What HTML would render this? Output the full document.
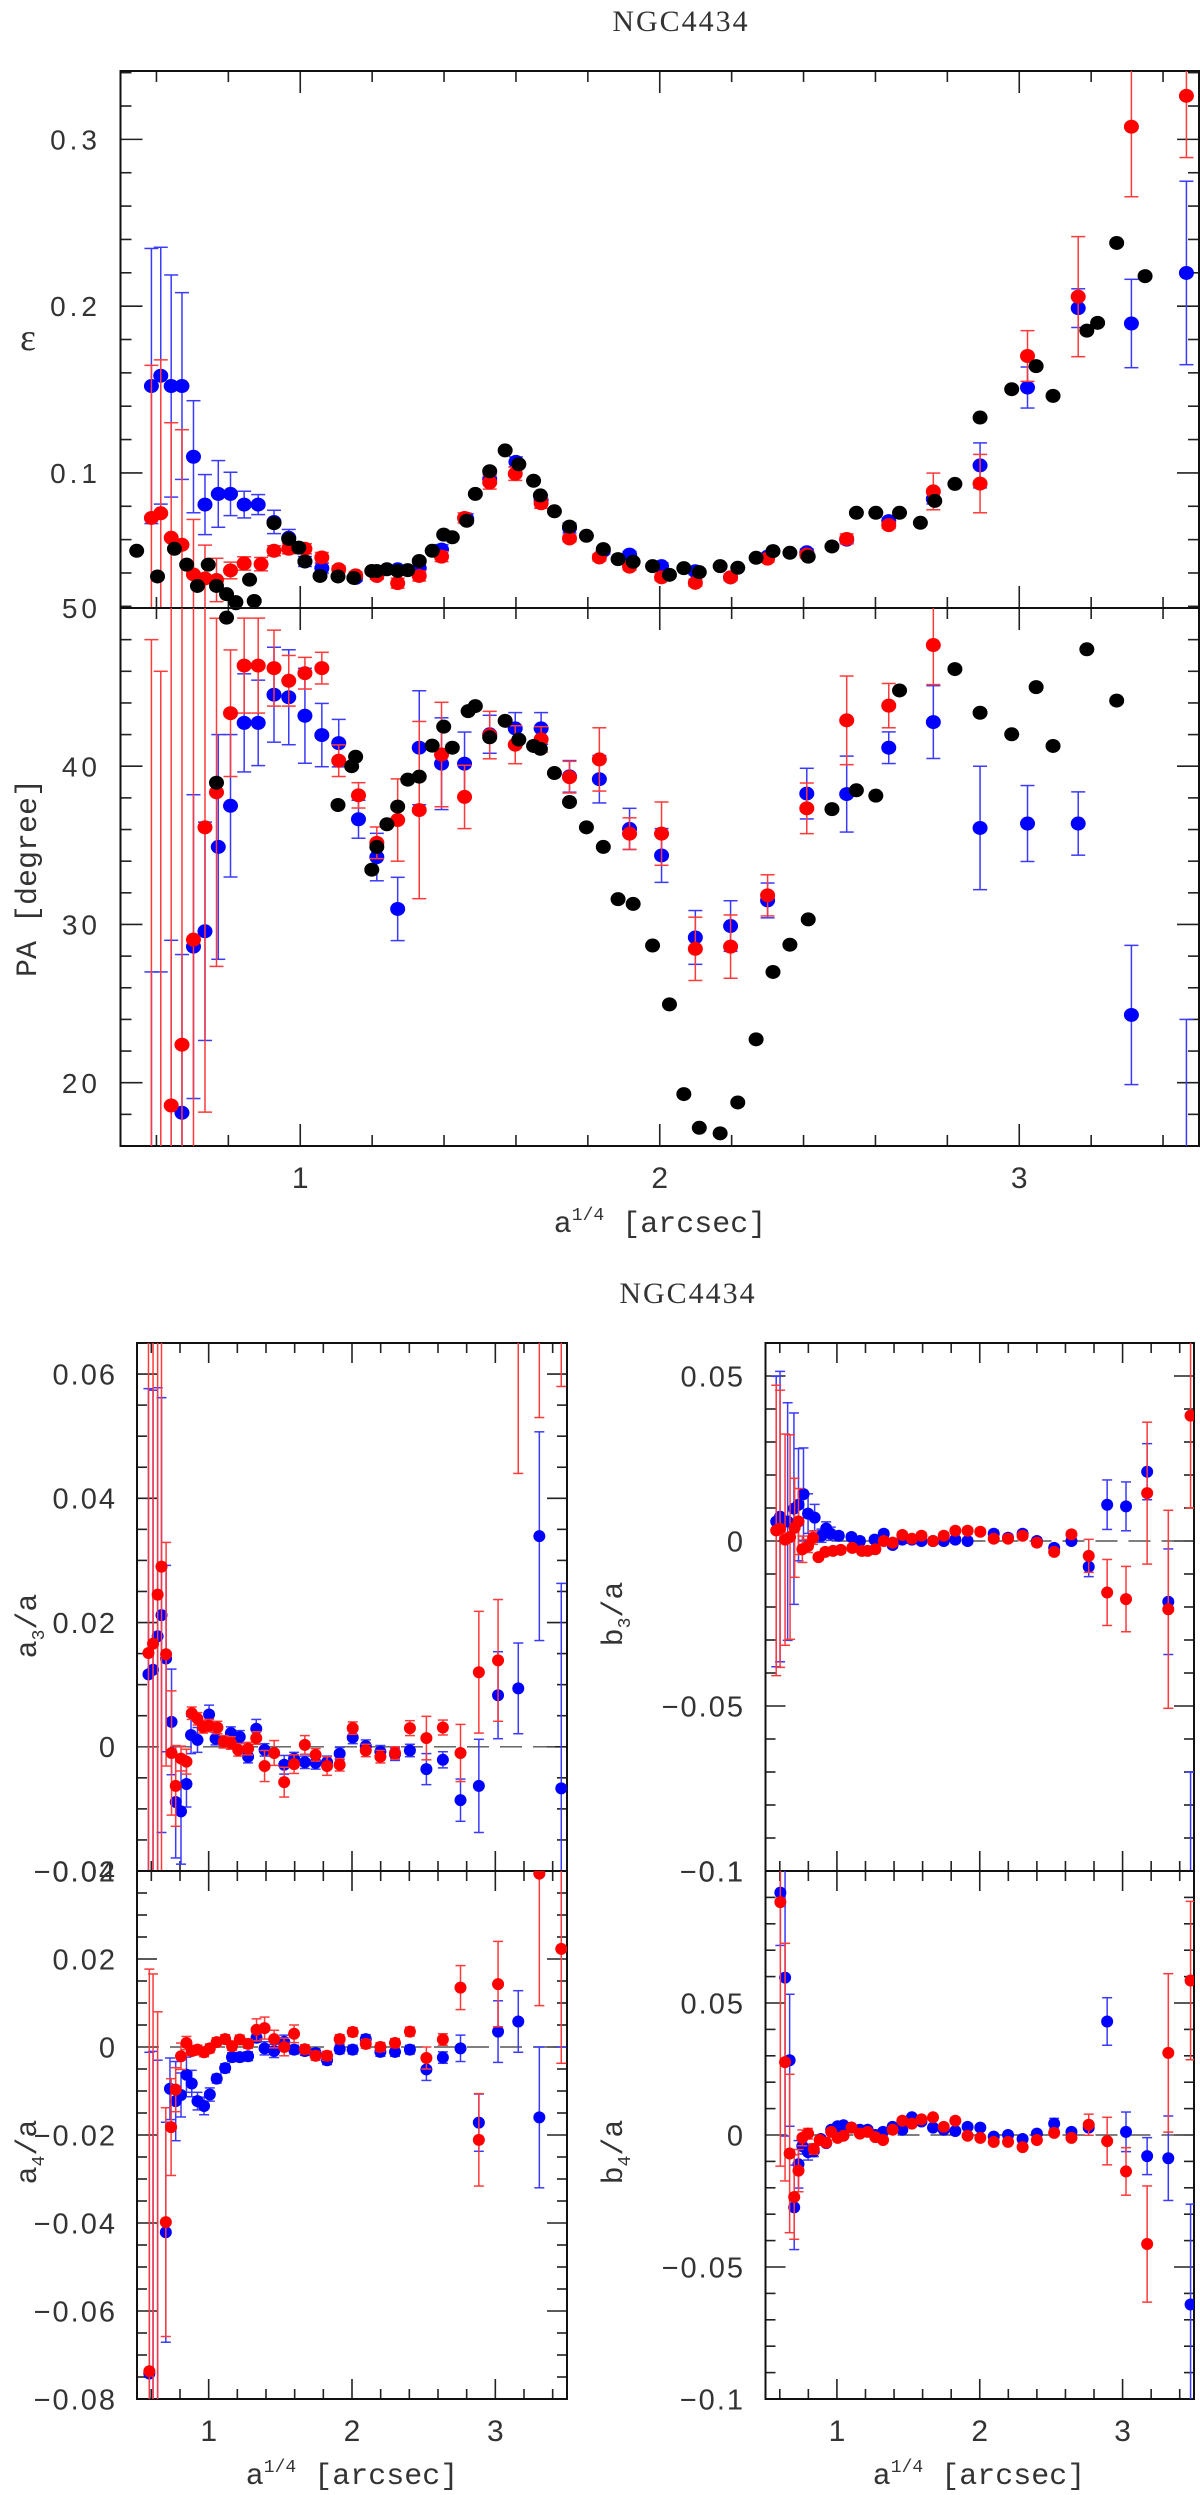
<!DOCTYPE html>
<html><head><meta charset="utf-8">
<style>
html,body{margin:0;padding:0;background:#fff;width:1200px;height:2495px;overflow:hidden;}
svg{display:block;}
text{font-family:"Liberation Sans",sans-serif;fill:#333;}
.mono{font-family:"Liberation Mono",monospace;}
.serif{font-family:"Liberation Serif",serif;}
</style></head>
<body>
<svg id="fig" width="1200" height="2495" viewBox="0 0 1200 2495" xmlns="http://www.w3.org/2000/svg">
<text class="serif" x="681" y="31" font-size="30" text-anchor="middle" letter-spacing="2">NGC4434</text>
<text class="serif" x="688" y="1303" font-size="30" text-anchor="middle" letter-spacing="2">NGC4434</text>
</svg>
<script>
// ---------- ellipticity panel ----------
const epsBlackX=[0.545,0.603,0.650,0.684,0.714,0.744,0.767,0.795,0.821,0.859,0.872,0.927,0.968,0.996,1.013,1.055,1.105,1.149,1.199,1.213,1.241,1.271,1.299,1.331,1.367,1.399,1.423,1.463,1.487,1.527,1.570,1.608,1.649,1.668,1.707,1.749,1.796,1.843,1.884,1.926,1.980,2.027,2.067,2.110,2.168,2.217,2.268,2.315,2.362,2.413,2.479,2.547,2.601,2.667,2.725,2.765,2.821,2.891,2.979,3.047,3.094,3.188,3.218,3.271,3.350];
const epsBlackY=[0.0533,0.0379,0.0545,0.045,0.0322,0.045,0.0322,0.0273,0.0225,0.036,0.0232,0.0699,0.0604,0.0552,0.0469,0.0382,0.0379,0.037,0.0412,0.0412,0.0422,0.0412,0.0417,0.0472,0.0533,0.063,0.0614,0.0713,0.0874,0.101,0.1135,0.1052,0.0953,0.0865,0.077,0.0678,0.0623,0.0543,0.0483,0.0467,0.0441,0.0389,0.0429,0.0405,0.0441,0.0431,0.0491,0.0531,0.0521,0.0498,0.0559,0.0761,0.0761,0.0761,0.0701,0.0832,0.0934,0.1332,0.1502,0.164,0.1462,0.1853,0.19,0.2379,0.218];
const epsBlueX=[0.586,0.612,0.641,0.671,0.703,0.735,0.772,0.806,0.844,0.883,0.927,0.968,1.013,1.060,1.154,1.213,1.271,1.331,1.393,1.463,1.527,1.600,1.670,1.749,1.843,1.916,2.005,2.099,2.197,2.300,2.409,2.520,2.637,2.761,2.891,3.023,3.164,3.312,3.465];
const epsBlueY=[0.1521,0.1583,0.1521,0.1521,0.1097,0.081,0.0874,0.0874,0.081,0.081,0.0706,0.0611,0.0469,0.0429,0.037,0.0398,0.0422,0.0429,0.054,0.0725,0.0962,0.1066,0.0836,0.067,0.0533,0.051,0.0441,0.041,0.0374,0.0498,0.0524,0.06,0.0711,0.0844,0.1045,0.1512,0.1988,0.1896,0.2199];
const epsBlueE=[0.0825,0.077,0.0666,0.056,0.0336,0.018,0.02,0.013,0.008,0.006,0.007,0.005,0.003,0.003,0.002,0.002,0.002,0.003,0.003,0.003,0.003,0.003,0.003,0.003,0.002,0.002,0.002,0.002,0.002,0.002,0.002,0.002,0.002,0.003,0.0135,0.0123,0.0116,0.0265,0.055];
const epsRedX=[0.586,0.612,0.641,0.671,0.703,0.735,0.767,0.806,0.844,0.891,0.927,0.968,1.013,1.060,1.107,1.154,1.213,1.271,1.331,1.393,1.457,1.527,1.598,1.670,1.749,1.832,1.916,2.005,2.099,2.197,2.300,2.409,2.520,2.637,2.761,2.891,3.023,3.164,3.312,3.465];
const epsRedY=[0.073,0.0758,0.0611,0.0569,0.0391,0.0367,0.0358,0.0415,0.0457,0.0453,0.0533,0.0545,0.0545,0.0493,0.0422,0.0386,0.0382,0.0339,0.0382,0.0498,0.073,0.0943,0.0995,0.0818,0.0607,0.0493,0.0438,0.0374,0.0341,0.0374,0.0486,0.051,0.0604,0.0687,0.0889,0.0936,0.1701,0.2057,0.3076,0.3261];
const epsRedE=[0.0915,0.092,0.069,0.069,0.033,0.02,0.013,0.005,0.004,0.004,0.003,0.003,0.003,0.003,0.002,0.002,0.002,0.003,0.003,0.003,0.003,0.004,0.004,0.003,0.002,0.002,0.002,0.002,0.002,0.002,0.002,0.002,0.003,0.002,0.011,0.0175,0.0152,0.036,0.042,0.037];
// ---------- position angle panel ----------
const paBlackX=[0.767,0.795,0.821,0.872,1.105,1.143,1.154,1.199,1.213,1.241,1.271,1.299,1.331,1.367,1.399,1.423,1.467,1.487,1.527,1.570,1.608,1.649,1.668,1.707,1.749,1.796,1.843,1.884,1.926,1.980,2.027,2.067,2.110,2.168,2.217,2.268,2.315,2.362,2.413,2.479,2.547,2.601,2.667,2.821,2.891,2.979,3.047,3.094,3.188,3.271];
const paBlackY=[38.96,49.39,50.3,50.4,37.55,40.0,40.6,33.46,34.9,36.33,37.45,39.15,39.34,41.3,42.5,41.17,43.48,43.8,41.83,42.87,41.68,41.28,41.1,39.57,37.74,36.14,34.9,31.6,31.3,28.67,24.95,19.28,17.15,16.8,18.75,22.74,27.0,28.72,30.32,37.29,38.48,38.14,44.79,46.14,43.38,42.02,45.0,41.28,47.39,44.15];
const paBlueX=[0.586,0.612,0.641,0.671,0.703,0.735,0.772,0.806,0.844,0.883,0.927,0.968,1.013,1.060,1.107,1.162,1.213,1.271,1.331,1.393,1.457,1.527,1.598,1.670,1.749,1.832,1.916,2.005,2.099,2.197,2.300,2.409,2.520,2.637,2.761,2.891,3.023,3.164,3.312,3.465];
const paBlueY=[12,12,15,18.1,28.6,29.57,34.9,37.5,42.74,42.74,44.52,44.36,43.19,41.97,41.46,36.65,34.26,30.98,41.17,40.16,40.16,42.02,42.39,42.39,39.36,39.18,36.04,34.36,29.18,29.9,31.52,38.27,38.24,41.17,42.79,36.1,36.38,36.38,24.28,12];
const paBlueE=[15,15,14,10,9.6,6.9,7.1,4.5,3.1,2.7,3,3,3,2,1.5,1.2,1.5,2,3.6,2.9,2,1.2,1,1,1,1.5,1.3,1.7,1.7,1.6,1.1,1.6,2.4,1,2.3,3.9,2.4,2,4.4,12];
const paRedX=[0.586,0.612,0.641,0.671,0.703,0.735,0.767,0.806,0.844,0.883,0.927,0.968,1.013,1.060,1.107,1.162,1.213,1.271,1.331,1.393,1.457,1.527,1.598,1.670,1.749,1.832,1.916,2.005,2.099,2.197,2.300,2.409,2.520,2.637,2.761];
const paRedY=[10,10,18.56,22.4,29.04,36.14,38.35,43.35,46.36,46.36,46.2,45.4,45.88,46.2,40.35,38.16,35.16,36.6,37.23,40.74,38.06,41.97,41.36,41.7,39.31,40.43,35.74,35.74,28.46,28.6,31.84,37.34,42.9,43.83,47.66];
const paRedE=[38,36,32,28,21,18,11,4,3,3,2.4,1.6,1,1,1,0.8,1,2.6,5.6,3.3,2,1.5,1.2,0.8,1,2,1,2,2,2,1.3,1.6,2.8,1.4,2.5];
// ---------- a3/a ----------
const a3BlueX=[0.580,0.612,0.644,0.671,0.703,0.741,0.770,0.807,0.845,0.877,0.922,1.003,1.048,1.155,1.217,1.275,1.332,1.390,1.527,1.596,1.671,1.746,1.826,1.914,2.005,2.096,2.198,2.300,2.404,2.519,2.634,2.757,2.885,3.019,3.160,3.307,3.460];
const a3BlueY=[0.01165,0.0124,0.0178,0.0212,0.0142,0.004,-0.0089,-0.0104,-0.006,0.0019,0.0011,0.0052,0.0013,0.0022,0.0016,-0.0016,0.0029,-0.0005,-0.0029,-0.0019,-0.0025,-0.0026,-0.0025,-0.0011,0.0015,0.0001,-0.0008,-0.0012,-0.0006,-0.0036,-0.0021,-0.0086,-0.0063,0.0083,0.0094,0.0339,-0.0067];
const a3BlueE=[0.046,0.045,0.04,0.035,0.015,0.0085,0.009,0.0085,0.0037,0.003,0.002,0.0015,0.001,0.001,0.001,0.001,0.0015,0.001,0.0015,0.001,0.001,0.001,0.001,0.001,0.001,0.001,0.001,0.001,0.001,0.0025,0.0013,0.0034,0.0075,0.007,0.0073,0.0168,0.033];
const a3RedX=[0.580,0.612,0.644,0.671,0.703,0.741,0.770,0.807,0.845,0.882,0.922,0.960,1.003,1.061,1.104,1.155,1.206,1.275,1.332,1.390,1.457,1.527,1.596,1.671,1.746,1.826,1.914,2.005,2.096,2.198,2.300,2.404,2.519,2.634,2.757,2.885,3.019,3.160,3.307,3.460];
const a3RedY=[0.0151,0.0166,0.0245,0.029,0.0149,-0.001,-0.0063,-0.0019,-0.0024,0.0054,0.0045,0.0032,0.0034,0.0031,0.0008,0.0006,-0.0005,-0.0003,0.0014,-0.0031,-0.001,-0.0057,-0.0028,0.0003,-0.0013,-0.0031,-0.0029,0.003,-0.0006,-0.0016,-0.001,0.003,0.0014,0.0031,-0.001,0.012,0.0139,0.072,0.08,0.085];
const a3RedE=[0.05,0.05,0.05,0.05,0.018,0.01,0.0065,0.002,0.002,0.001,0.001,0.001,0.001,0.001,0.001,0.001,0.001,0.001,0.001,0.0025,0.002,0.0024,0.0015,0.0015,0.001,0.0015,0.001,0.001,0.001,0.001,0.001,0.0012,0.0035,0.0012,0.0046,0.0098,0.0098,0.028,0.027,0.027];
// ---------- a4/a ----------
const a4BlueX=[0.586,0.612,0.644,0.701,0.730,0.770,0.807,0.845,0.882,0.922,0.968,1.008,1.056,1.115,1.163,1.217,1.275,1.334,1.390,1.457,1.527,1.596,1.671,1.746,1.826,1.914,2.005,2.096,2.198,2.300,2.404,2.519,2.634,2.757,2.885,3.019,3.160,3.307,3.460];
const a4BlueY=[-0.0742,-0.1,-0.1,-0.0421,-0.0095,-0.0123,-0.0109,-0.0063,-0.0083,-0.0123,-0.0134,-0.0108,-0.0072,-0.0048,-0.0023,-0.0023,-0.0021,0.0021,-0.0003,-0.0009,0.0012,-0.0006,-0.0009,-0.0014,-0.003,-0.0005,-0.0006,0.0018,-0.0011,-0.0011,-0.0006,-0.0051,-0.0024,-0.0003,-0.0172,0.0035,0.0058,-0.016,0.06];
const a4BlueE=[0.073,0.099,0.097,0.025,0.007,0.009,0.005,0.004,0.003,0.002,0.002,0.0015,0.001,0.001,0.001,0.001,0.001,0.001,0.0015,0.0015,0.0015,0.001,0.001,0.001,0.001,0.001,0.001,0.001,0.001,0.001,0.001,0.0025,0.0013,0.003,0.0065,0.007,0.007,0.016,0.06];
const a4RedX=[0.586,0.612,0.644,0.701,0.738,0.770,0.807,0.845,0.882,0.922,0.968,1.008,1.056,1.115,1.163,1.217,1.275,1.334,1.390,1.457,1.527,1.596,1.671,1.746,1.826,1.914,2.005,2.096,2.198,2.300,2.404,2.519,2.634,2.757,2.885,3.019,3.307,3.460];
const a4RedY=[-0.0737,-0.1,-0.1,-0.0398,-0.0182,-0.0097,-0.0021,0.0009,-0.0009,-0.0006,-0.0012,-0.0003,0.0011,0.0018,0.0002,0.0017,0.0007,0.0039,0.0043,0.0018,0,0.003,-0.0005,-0.002,-0.002,0.0018,0.0034,0.0007,0,0.0009,0.0035,-0.0025,0.0017,0.0135,-0.0211,0.0143,0.0394,0.0223];
const a4RedE=[0.0914,0.1166,0.108,0.026,0.011,0.005,0.003,0.0015,0.001,0.001,0.001,0.001,0.001,0.001,0.001,0.001,0.001,0.0025,0.0025,0.002,0.002,0.002,0.001,0.001,0.001,0.001,0.001,0.001,0.001,0.001,0.001,0.0025,0.0013,0.005,0.0105,0.0097,0.03,0.026];
// ---------- b3/a ----------
const b3BlueX=[0.575,0.602,0.655,0.699,0.731,0.766,0.798,0.844,0.892,0.925,0.957,1.013,1.102,1.161,1.264,1.328,1.390,1.458,1.525,1.592,1.673,1.748,1.829,1.915,2.098,2.198,2.300,2.400,2.521,2.642,2.763,2.892,3.024,3.172,3.320,3.476];
const b3BlueY=[0.0059,0.0074,0.0059,0.0098,0.011,0.0142,0.0083,0.0071,0.0016,0.0038,0.0022,0.0016,0.0012,0,0.0004,0.0022,-0.0012,0.0004,0.0004,0,0,0,0.0004,0,0.0022,0.001,0.0022,0,-0.0021,0,-0.0078,0.011,0.0105,0.021,-0.0184,-0.11];
const b3BlueE=[0.044,0.044,0.036,0.029,0.017,0.014,0.006,0.004,0.002,0.002,0.002,0.001,0.001,0.001,0.001,0.001,0.001,0.001,0.001,0.001,0.001,0.001,0.001,0.001,0.001,0.001,0.001,0.001,0.001,0.001,0.003,0.0075,0.0074,0.0085,0.016,0.04];
const b3RedX=[0.575,0.602,0.637,0.672,0.704,0.731,0.758,0.798,0.833,0.871,0.919,0.973,1.027,1.108,1.175,1.215,1.269,1.328,1.390,1.458,1.525,1.592,1.673,1.748,1.829,1.915,2.004,2.098,2.198,2.300,2.400,2.521,2.642,2.763,2.892,3.024,3.172,3.320,3.476];
const b3RedY=[0.0032,0.0037,0.0004,0.0012,0.004,0.0059,-0.0025,-0.0015,0.001,-0.0049,-0.0033,-0.003,-0.0027,-0.0021,-0.003,-0.003,-0.0025,0,-0.0005,0.0018,0.0007,0.0016,0,0.0016,0.0031,0.0031,0.0028,0.0007,0.0007,0.0016,-0.0005,-0.0033,0.002,-0.0045,-0.0156,-0.0176,0.0145,-0.0207,0.038];
const b3RedE=[0.044,0.042,0.032,0.031,0.015,0.01,0.004,0.002,0.002,0.001,0.001,0.001,0.001,0.001,0.001,0.001,0.001,0.001,0.001,0.001,0.001,0.001,0.001,0.001,0.001,0.001,0.001,0.001,0.001,0.001,0.001,0.001,0.001,0.005,0.01,0.0099,0.0215,0.03,0.028];
// ---------- b4/a ----------
const b4BlueX=[0.604,0.637,0.669,0.701,0.731,0.758,0.798,0.838,0.887,0.925,0.960,1.005,1.046,1.102,1.161,1.215,1.269,1.323,1.390,1.458,1.525,1.592,1.673,1.748,1.829,1.915,2.004,2.098,2.198,2.300,2.400,2.521,2.642,2.763,2.892,3.024,3.172,3.320,3.476];
const b4BlueY=[0.0918,0.0596,0.0283,-0.0274,-0.0111,-0.0042,-0.0065,-0.0062,-0.0015,-0.0031,0.002,0.0033,0.0037,0.0028,0.002,0.002,0,0.0012,0.0031,0.002,0.0067,0.0051,0.0028,0.002,0.0015,0.0031,0.0028,-0.0006,0,-0.0015,0.0005,0.0043,0.0012,0.0028,0.043,0.0012,-0.008,-0.0088,-0.0642];
const b4BlueE=[0.02,0.06,0.025,0.016,0.009,0.003,0.003,0.002,0.001,0.001,0.001,0.001,0.001,0.001,0.001,0.001,0.001,0.001,0.001,0.001,0.001,0.001,0.001,0.001,0.001,0.001,0.001,0.001,0.001,0.001,0.001,0.002,0.001,0.001,0.009,0.0075,0.007,0.016,0.038];
const b4RedX=[0.604,0.637,0.669,0.701,0.731,0.758,0.798,0.838,0.879,0.925,0.960,1.005,1.046,1.102,1.161,1.215,1.269,1.323,1.390,1.458,1.525,1.592,1.673,1.748,1.829,1.915,2.004,2.098,2.198,2.300,2.400,2.521,2.642,2.763,2.892,3.024,3.172,3.320,3.476];
const b4RedY=[0.0882,0.0276,-0.007,-0.0235,-0.0135,-0.0011,0.0005,-0.0053,-0.0019,-0.0029,0.0012,-0.0011,-0.0003,0.0028,0.0005,0.0012,-0.0008,-0.0019,0.002,0.0054,0.0043,0.0059,0.0067,0.0031,0.0054,-0.0003,-0.0011,-0.0026,-0.0026,-0.0046,-0.0019,0.0008,-0.0011,0.0039,-0.0023,-0.0138,-0.0413,0.0311,0.0585];
const b4RedE=[0.1,0.045,0.03,0.016,0.008,0.003,0.002,0.002,0.001,0.001,0.001,0.001,0.001,0.001,0.001,0.001,0.001,0.001,0.001,0.001,0.001,0.001,0.001,0.001,0.001,0.001,0.001,0.001,0.001,0.001,0.001,0.001,0.001,0.004,0.009,0.009,0.022,0.03,0.03];
// ---------- tick labels ----------
const xTickLabels=["1","2","3"];
const epsTickVals=[0.1,0.2,0.3];
const paTickVals=[20,30,40,50];
const a3TickVals=[0.06,0.04,0.02,0,-0.02];
const a3TickText=["0.06","0.04","0.02","0","\u22120.02"];
const a4TickVals=[0.04,0.02,0,-0.02,-0.04,-0.06,-0.08];
const a4TickText=["0.04","0.02","0","\u22120.02","\u22120.04","\u22120.06","\u22120.08"];
const b3TickVals=[0.05,0,-0.05,-0.1];
const b3TickText=["0.05","0","\u22120.05","\u22120.1"];
const b4TickVals=[0.1,0.05,0,-0.05,-0.1];
const b4TickText=["0.1","0.05","0","\u22120.05","\u22120.1"];

const NS="http://www.w3.org/2000/svg";
const svg=document.getElementById('fig');
function mk(tag,attrs,parent){const e=document.createElementNS(NS,tag);for(const k in attrs)e.setAttribute(k,attrs[k]);(parent||svg).appendChild(e);return e;}
let clipId=0;

function panel(name,P){
  const g=mk('g',{});
  
  
  const sx=v=>P.L+(v-P.x0)/(P.x1-P.x0)*(P.R-P.L);
  const sy=v=>P.B-(v-P.y0)/(P.y1-P.y0)*(P.B-P.T);
  P.sx=sx;P.sy=sy;P.g=g;
  const id='clip'+(clipId++);
  const cp=mk('clipPath',{id:id},g);
  mk('rect',{x:P.L,y:P.T,width:P.R-P.L,height:P.B-P.T},cp);
  P.clip='url(#'+id+')';
  const tg=mk('g',{stroke:'#222','stroke-width':1.6},g);
  
  
  for(let k=6;k<=34;k+=2){
    const v=k/10;
    const major=(k%10===0);
    const L=major?P.tmx:P.tmn;
    const X=sx(v);
    mk('line',{x1:X,x2:X,y1:P.B,y2:P.B-L},tg);
    mk('line',{x1:X,x2:X,y1:P.T,y2:P.T+L},tg);
  }
  const start=Math.ceil(P.y0/P.ym-1e-6);
  for(let j=start;j*P.ym<=P.y1+1e-9;j++){
    const v=j*P.ym;
    const major=Math.abs(Math.round(v/P.yM)*P.yM-v)<1e-9;
    const L=major?P.tmx:P.tmn;
    const Y=sy(v);
    mk('line',{x1:P.L,x2:P.L+L,y1:Y,y2:Y},tg);
    mk('line',{x1:P.R,x2:P.R-L,y1:Y,y2:Y},tg);
  }
  if(P.zero){
    const z=mk('line',{x1:P.L,x2:P.R,y1:sy(0),y2:sy(0),stroke:'#555','stroke-width':1.4,'stroke-dasharray':'22 11'},g);
    
    
  }
  const fr=mk('rect',{x:P.L,y:P.T,width:P.R-P.L,height:P.B-P.T,fill:'none',stroke:'#111','stroke-width':2},g);
  
  
  return P;
}

function series(P,name,xs,ys,es,color,ecolor,r){
  const g=mk('g',{'clip-path':P.clip},P.g);
  
  
  const nn=Math.min(xs.length,ys.length);
  if(es){
    for(let i=0;i<nn;i++){
      const X=P.sx(xs[i]),y1=P.sy(ys[i]+es[i]),y2=P.sy(ys[i]-es[i]);
      const l=mk('line',{x1:X,x2:X,y1:y1,y2:y2,stroke:ecolor,'stroke-width':1.5},g);
      
      
      mk('line',{x1:X-P.cap,x2:X+P.cap,y1:y1,y2:y1,stroke:ecolor,'stroke-width':1.5},g);
      mk('line',{x1:X-P.cap,x2:X+P.cap,y1:y2,y2:y2,stroke:ecolor,'stroke-width':1.5},g);
    }
  }
  for(let i=0;i<nn;i++){
    const c=mk('ellipse',{cx:P.sx(xs[i]),cy:P.sy(ys[i]),rx:r[0],ry:r[1],fill:color},g);
    
    
  }
}

function yLabels(P,name,vals,texts,xr,fs,ls){
  vals.forEach((v,i)=>{
    const t=mk('text',{x:xr,y:P.sy(v)+fs*0.36,'font-size':fs,'text-anchor':'end','letter-spacing':ls});
    t.textContent=texts[i];
    
    
  });
}
function xLabels(P,name,y,fs){
  xTickLabels.forEach(s=>{
    const t=mk('text',{x:P.sx(parseFloat(s)),y:y,'font-size':fs,'text-anchor':'middle'});
    t.textContent=s;
    
    
  });
}
function axTitle(name,x,y,rot,html,fs,cls){
  const t=mk('text',{x:x,y:y,'font-size':fs,'text-anchor':'middle',class:cls||'mono',transform:rot?('rotate(-90 '+x+' '+y+')'):''});
  t.innerHTML=html;
  
  
}

const R_TOP=[7.5,7], R_BOT=[6,6];
const EPS=panel('ellipticity',{L:120.5,R:1199,T:71,B:608,x0:0.5,x1:3.5,y0:0.019,y1:0.341,ym:0.02,yM:0.1,tmx:22,tmn:11,cap:7});
series(EPS,'ellipticity-blue',epsBlueX,epsBlueY,epsBlueE,'#0000ff','#3a3aff',R_TOP);
series(EPS,'ellipticity-red',epsRedX,epsRedY,epsRedE,'#ff0000','#ff3a3a',R_TOP);
series(EPS,'ellipticity-black',epsBlackX,epsBlackY,null,'#000','#000',R_TOP);
yLabels(EPS,'ellipticity-y',epsTickVals,epsTickVals.map(v=>v.toFixed(1)),101,28,4);

const PA=panel('position-angle',{L:120.5,R:1199,T:608,B:1146,x0:0.5,x1:3.5,y0:16,y1:50,ym:2,yM:10,tmx:22,tmn:11,cap:7});
series(PA,'pa-blue',paBlueX,paBlueY,paBlueE,'#0000ff','#3a3aff',R_TOP);
series(PA,'pa-red',paRedX,paRedY,paRedE,'#ff0000','#ff3a3a',R_TOP);
series(PA,'pa-black',paBlackX,paBlackY,null,'#000','#000',R_TOP);
yLabels(PA,'pa-y',paTickVals,paTickVals.map(String),101,28,4);
xLabels(PA,'top-x',1188,30);

const A3=panel('a3',{L:137,R:567,T:1343,B:1871,x0:0.5,x1:3.5,y0:-0.02,y1:0.065,ym:0.005,yM:0.02,tmx:20,tmn:10,cap:5,zero:true});
series(A3,'a3-blue',a3BlueX,a3BlueY,a3BlueE,'#0000ff','#3a3aff',R_BOT);
series(A3,'a3-red',a3RedX,a3RedY,a3RedE,'#ff0000','#ff3a3a',R_BOT);
yLabels(A3,'a3-y',a3TickVals,a3TickText,117,29,2);

const A4=panel('a4',{L:137,R:567,T:1871,B:2399,x0:0.5,x1:3.5,y0:-0.08,y1:0.04,ym:0.005,yM:0.02,tmx:20,tmn:10,cap:5,zero:true});
series(A4,'a4-blue',a4BlueX,a4BlueY,a4BlueE,'#0000ff','#3a3aff',R_BOT);
series(A4,'a4-red',a4RedX,a4RedY,a4RedE,'#ff0000','#ff3a3a',R_BOT);
yLabels(A4,'a4-y',a4TickVals,a4TickText,117,29,2);
xLabels(A4,'a4-x',2441,30);

const B3=panel('b3',{L:765.5,R:1194,T:1343,B:1871,x0:0.5,x1:3.5,y0:-0.1,y1:0.06,ym:0.01,yM:0.05,tmx:20,tmn:10,cap:5,zero:true});
series(B3,'b3-blue',b3BlueX,b3BlueY,b3BlueE,'#0000ff','#3a3aff',R_BOT);
series(B3,'b3-red',b3RedX,b3RedY,b3RedE,'#ff0000','#ff3a3a',R_BOT);
yLabels(B3,'b3-y',b3TickVals,b3TickText,745,29,2);

const B4=panel('b4',{L:765.5,R:1194,T:1871,B:2399,x0:0.5,x1:3.5,y0:-0.1,y1:0.1,ym:0.01,yM:0.05,tmx:20,tmn:10,cap:5,zero:true});
series(B4,'b4-blue',b4BlueX,b4BlueY,b4BlueE,'#0000ff','#3a3aff',R_BOT);
series(B4,'b4-red',b4RedX,b4RedY,b4RedE,'#ff0000','#ff3a3a',R_BOT);
yLabels(B4,'b4-y',b4TickVals,b4TickText,745,29,2);
xLabels(B4,'b4-x',2441,30);

axTitle('ellipticity-y-title',28,350,false,'\u03b5',38,'serif');
axTitle('pa-y-title',36,878,true,'PA [degree]',30);
axTitle('top-x-title',660,1232,false,'a<tspan font-size="18" dy="-12">1/4</tspan><tspan dy="12"> [arcsec]</tspan>',30);
axTitle('a3-y-title',36,1626,true,'a<tspan font-size="18" dy="8">3</tspan><tspan dy="-8">/a</tspan>',30);
axTitle('a4-y-title',36,2152,true,'a<tspan font-size="18" dy="8">4</tspan><tspan dy="-8">/a</tspan>',30);
axTitle('b3-y-title',622,1614,true,'b<tspan font-size="18" dy="8">3</tspan><tspan dy="-8">/a</tspan>',30);
axTitle('b4-y-title',622,2152,true,'b<tspan font-size="18" dy="8">4</tspan><tspan dy="-8">/a</tspan>',30);
axTitle('a4-x-title',352,2484,false,'a<tspan font-size="18" dy="-12">1/4</tspan><tspan dy="12"> [arcsec]</tspan>',30);
axTitle('b4-x-title',979,2484,false,'a<tspan font-size="18" dy="-12">1/4</tspan><tspan dy="12"> [arcsec]</tspan>',30);
</script>
</body></html>
